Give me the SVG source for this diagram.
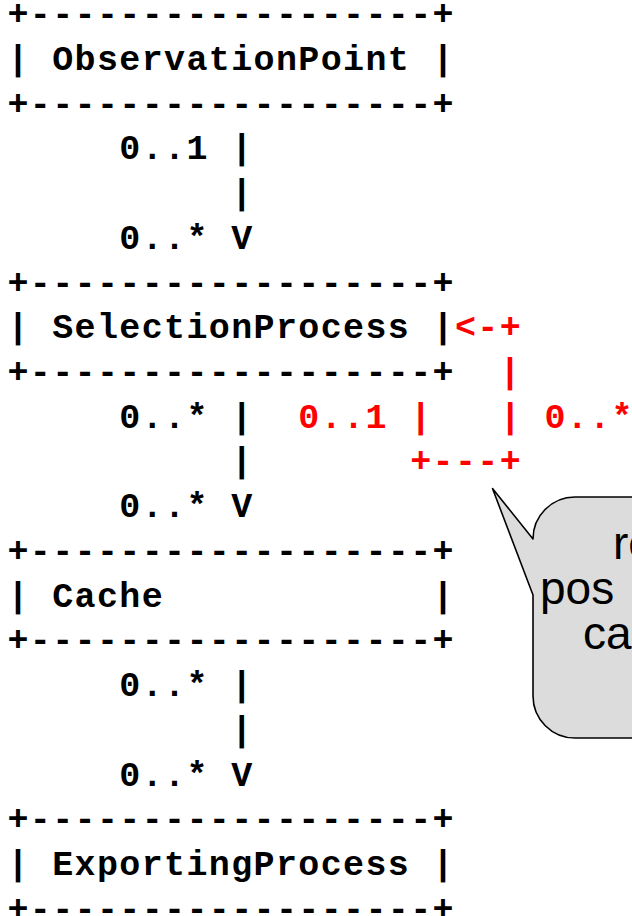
<svg xmlns="http://www.w3.org/2000/svg" width="632" height="916" viewBox="0 0 632 916" xml:space="preserve">
<style>
.a{font-family:"Courier New","Liberation Mono","DejaVu Sans Mono",monospace;font-size:35px;letter-spacing:1.37px;font-weight:bold;fill:#000;white-space:pre}
.r{fill:#ff0000}
.c{font-family:"Liberation Sans",Arial,sans-serif;font-size:46px;fill:#000}
</style>
<rect width="632" height="916" fill="#fff"/>
<g id="callout">
<path d="M492.5 488.5 L533 595 L533 696 A42 42 0 0 0 575 738 L700 738 L700 497 L575 497 A42 42 0 0 0 533 539 Z" fill="#dcdcdc" stroke="#000" stroke-width="1.6" stroke-linejoin="round"/>
<text class="c" x="613" y="559">re</text>
<text class="c" x="540" y="604">pos</text>
<text class="c" x="583" y="649">ca</text>
</g>
<g id="ObservationPoint">
<text class="a" x="7.5" y="25.3">+------------------+</text>
<text class="a" x="7.5" y="70">| ObservationPoint |</text>
<text class="a" x="7.5" y="114.7">+------------------+</text>
</g>
<g id="SelectionProcess">
<text class="a" x="7.5" y="293.6">+------------------+</text>
<text class="a" x="7.5" y="338.3">| SelectionProcess |</text>
<text class="a" x="7.5" y="383">+------------------+</text>
</g>
<g id="Cache">
<text class="a" x="7.5" y="562">+------------------+</text>
<text class="a" x="7.5" y="606.7">| Cache            |</text>
<text class="a" x="7.5" y="651.4">+------------------+</text>
</g>
<g id="ExportingProcess">
<text class="a" x="7.5" y="830.3">+------------------+</text>
<text class="a" x="7.5" y="875">| ExportingProcess |</text>
<text class="a" x="7.5" y="919.7">+------------------+</text>
</g>
<g id="connectors">
<text class="a" x="7.5" y="159.4">     0..1 |</text>
<text class="a" x="7.5" y="204.2">          |</text>
<text class="a" x="7.5" y="248.9">     0..* V</text>
<text class="a" x="7.5" y="427.7">     0..* |</text>
<text class="a" x="7.5" y="472.4">          |</text>
<text class="a" x="7.5" y="517.2">     0..* V</text>
<text class="a" x="7.5" y="696.1">     0..* |</text>
<text class="a" x="7.5" y="740.8">          |</text>
<text class="a" x="7.5" y="785.6">     0..* V</text>
<text class="a r" x="454.9" y="338.3">&lt;-+</text>
<text class="a r" x="499.6" y="383">|</text>
<text class="a r" x="298.3" y="427.7">0..1 |   | 0..*</text>
<text class="a r" x="410.2" y="472.4">+---+</text>
</g>
</svg>
